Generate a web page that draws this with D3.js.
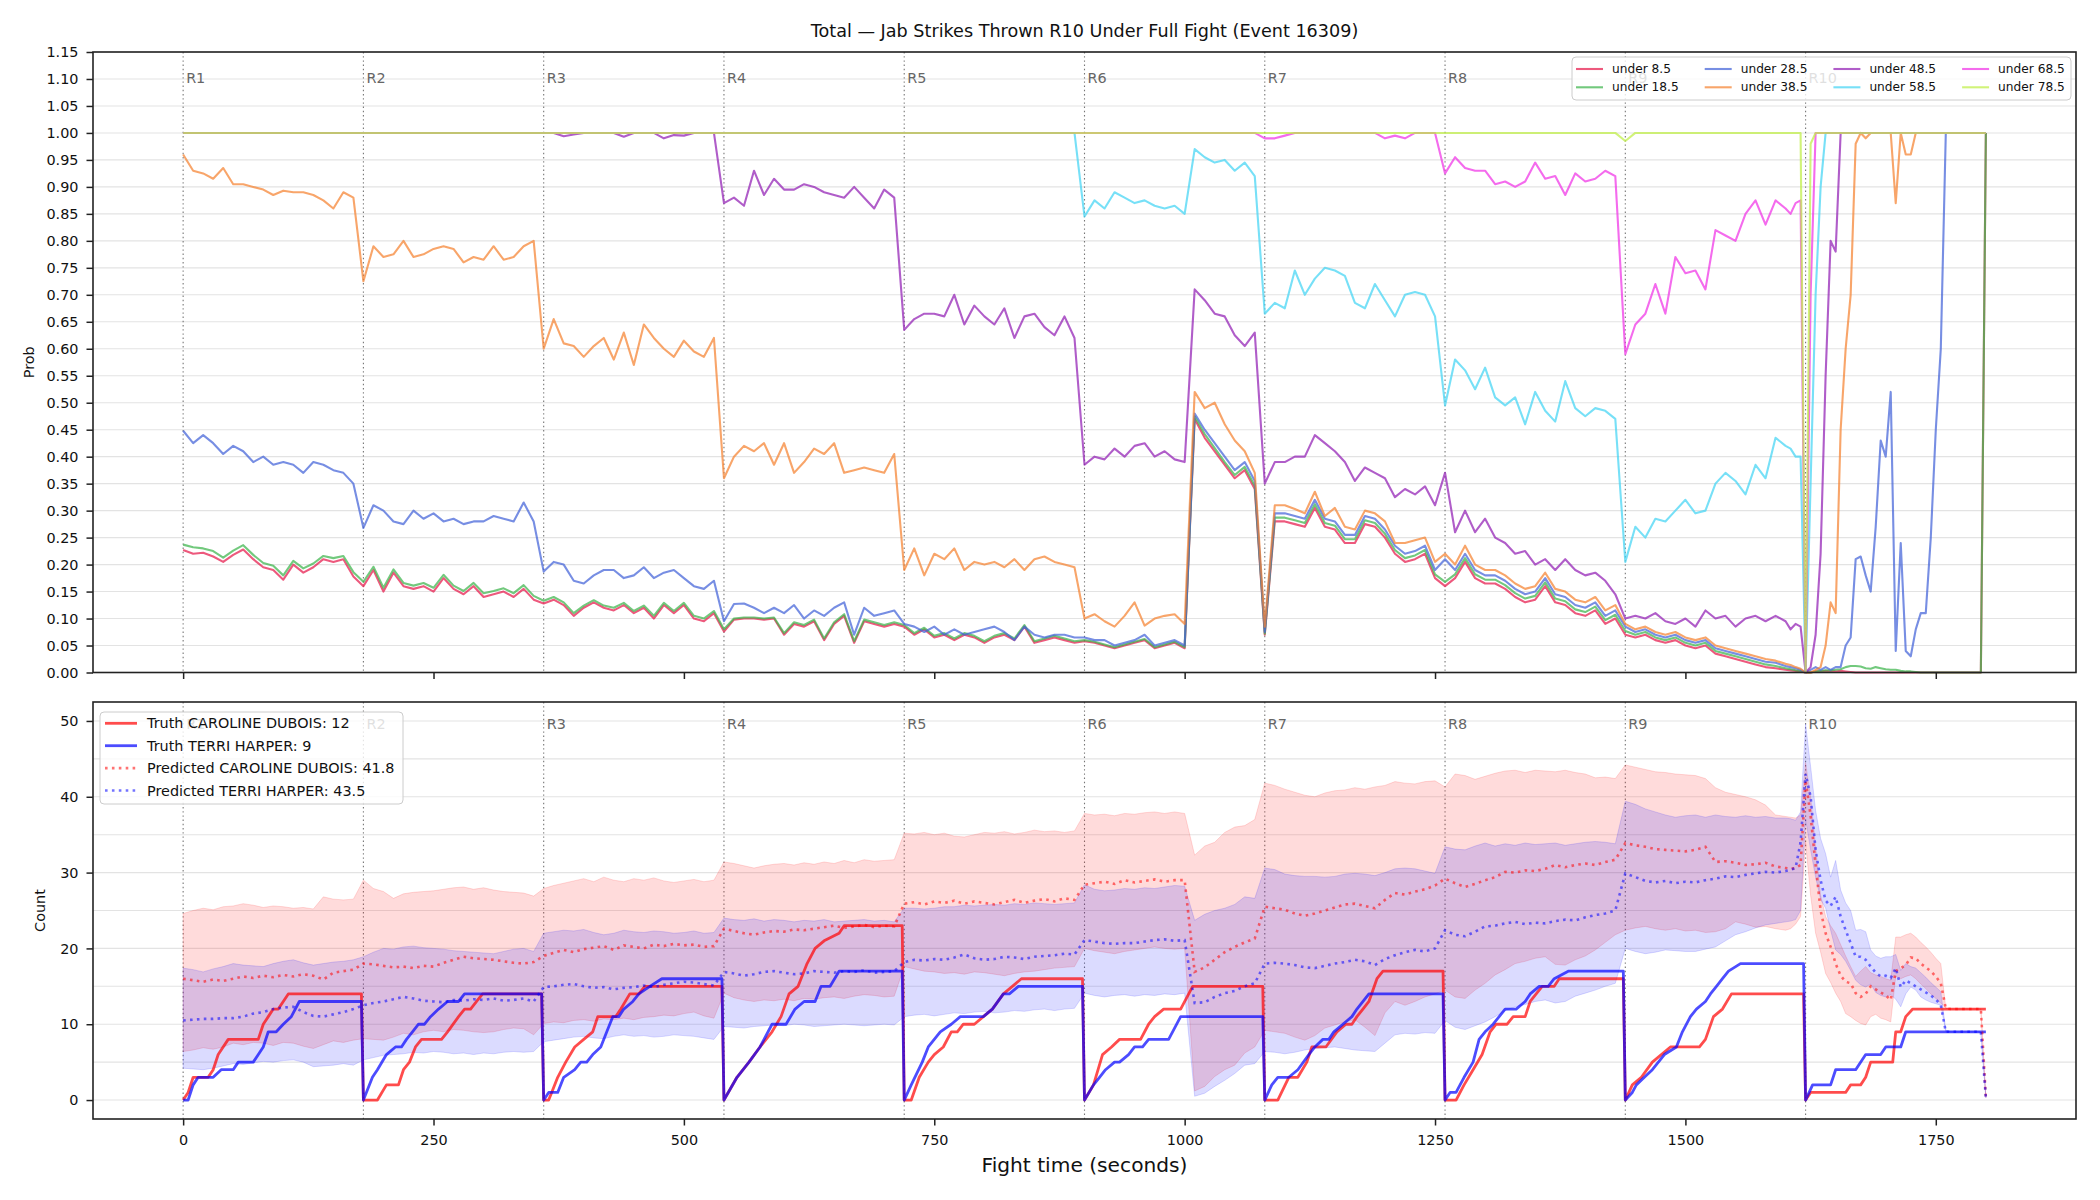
<!DOCTYPE html>
<html>
<head>
<meta charset="utf-8">
<script src="https://cdn.jsdelivr.net/npm/d3@7"></script>
<style>
  body { margin: 0; background: #fff; }
  text { font-family: "DejaVu Sans", sans-serif; }
</style>
</head>
<body>
<div id="chart"></div>
<script>
// Sample times: every 10 s up to 1600 s, then every 5 s through R10
const tGrid = d3.range(0, 1600, 10).concat(d3.range(1600, 1801, 5));

const rounds = [0, 180, 360, 540, 720, 900, 1080, 1260, 1440, 1620];
const roundLabels = ["R1", "R2", "R3", "R4", "R5", "R6", "R7", "R8", "R9", "R10"];
const xTicks = [0, 250, 500, 750, 1000, 1250, 1500, 1750];
const probTicks = [0, 0.05, 0.10, 0.15, 0.20, 0.25, 0.30, 0.35, 0.40, 0.45, 0.50, 0.55,
  0.60, 0.65, 0.70, 0.75, 0.80, 0.85, 0.90, 0.95, 1.00, 1.05, 1.10, 1.15];
const countTicks = [0, 10, 20, 30, 40, 50];
const countGrid = [0, 5, 10, 15, 20, 25, 30, 35, 40, 45, 50];

const thresholds = ["under 8.5", "under 18.5", "under 28.5", "under 38.5",
  "under 48.5", "under 58.5", "under 68.5", "under 78.5"];
const thresholdColors = ["#e6194b", "#3cb44b", "#4363d8", "#f58231",
  "#911eb4", "#42d4f4", "#f032e6", "#bfef45"];

// P(total < threshold), one row per round
const under8 = [
  0.227,0.22,0.222,0.215,0.205,0.218,0.228,0.21,0.195,0.19,0.172,0.2,0.185,0.195,0.21,0.205,0.21,0.178,
  0.16,0.19,0.15,0.185,0.16,0.155,0.16,0.15,0.175,0.155,0.145,0.16,0.14,0.145,0.15,0.14,0.155,0.135,
  0.128,0.135,0.125,0.105,0.12,0.13,0.12,0.115,0.125,0.11,0.12,0.1,0.125,0.11,0.125,0.1,0.095,0.11,
  0.076,0.098,0.1,0.1,0.098,0.1,0.07,0.09,0.085,0.095,0.06,0.09,0.105,0.055,0.095,0.09,0.085,0.09,
  0.085,0.07,0.08,0.065,0.07,0.06,0.07,0.065,0.055,0.065,0.07,0.06,0.085,0.055,0.06,0.065,0.06,0.055,
  0.058,0.055,0.05,0.045,0.05,0.055,0.06,0.045,0.05,0.055,0.045,0.47,0.435,0.41,0.385,0.36,0.375,0.34,
  0.07,0.28,0.28,0.275,0.27,0.305,0.27,0.265,0.24,0.24,0.275,0.27,0.25,0.22,0.205,0.21,0.22,0.175,
  0.16,0.175,0.205,0.175,0.165,0.165,0.155,0.14,0.13,0.135,0.16,0.13,0.125,0.11,0.105,0.115,0.09,0.1,
  0.07,0.065,0.07,0.06,0.055,0.06,0.05,0.045,0.05,0.035,0.03,0.025,0.02,0.015,0.01,0.008,0.005,0.004,0.003,0.002,
  0,0,0.002,0.002,0.003,0.002,0.002,0.003,0.002,0.001, 0,0,0,0,0,0,0,0,0,0, 0,0,0,0,0,0,0,0,0,0, 0,0,0,0,0,0, 1
];
const under18 = [
  0.237,0.232,0.23,0.225,0.213,0.226,0.236,0.218,0.203,0.198,0.18,0.207,0.193,0.202,0.216,0.212,0.216,0.186,
  0.168,0.196,0.157,0.191,0.166,0.161,0.166,0.157,0.181,0.161,0.151,0.166,0.147,0.151,0.156,0.147,0.162,0.142,
  0.133,0.14,0.13,0.11,0.124,0.134,0.124,0.12,0.129,0.114,0.124,0.105,0.129,0.114,0.129,0.105,0.1,0.114,
  0.08,0.1,0.102,0.102,0.1,0.102,0.073,0.093,0.088,0.098,0.063,0.093,0.108,0.058,0.098,0.093,0.088,0.093,
  0.088,0.073,0.083,0.068,0.073,0.063,0.073,0.068,0.058,0.068,0.073,0.063,0.088,0.058,0.063,0.068,0.063,0.058,
  0.06,0.057,0.052,0.047,0.052,0.057,0.062,0.047,0.052,0.057,0.047,0.475,0.442,0.416,0.39,0.366,0.381,0.346,
  0.072,0.287,0.287,0.282,0.277,0.312,0.277,0.272,0.247,0.247,0.282,0.277,0.257,0.227,0.212,0.217,0.227,0.182,
  0.168,0.182,0.212,0.182,0.172,0.172,0.162,0.147,0.137,0.142,0.167,0.137,0.132,0.117,0.112,0.122,0.097,0.107,
  0.077,0.07,0.075,0.065,0.06,0.065,0.055,0.05,0.055,0.04,0.035,0.03,0.025,0.02,0.015,0.012,0.008,0.006,0.004,0.003,
  0,0,0.002,0.003,0.004,0.004,0.005,0.006,0.01,0.012, 0.012,0.011,0.008,0.007,0.01,0.008,0.006,0.005,0.005,0.003,
  0.002,0.002,0.001,0,0,0,0,0,0,0, 0,0,0,0,0,0, 1
];
const under28 = [
  0.448,0.425,0.44,0.425,0.405,0.42,0.41,0.39,0.40,0.385,0.39,0.385,0.37,0.39,0.385,0.375,0.37,0.35,
  0.268,0.31,0.30,0.28,0.275,0.30,0.285,0.295,0.28,0.285,0.275,0.28,0.28,0.29,0.285,0.28,0.315,0.28,
  0.187,0.205,0.20,0.17,0.165,0.18,0.19,0.19,0.175,0.18,0.195,0.175,0.185,0.19,0.175,0.16,0.155,0.17,
  0.095,0.127,0.128,0.12,0.11,0.12,0.11,0.125,0.10,0.115,0.105,0.12,0.13,0.07,0.12,0.105,0.11,0.115,
  0.09,0.085,0.075,0.085,0.07,0.08,0.07,0.075,0.08,0.085,0.075,0.06,0.085,0.07,0.065,0.07,0.07,0.065,
  0.065,0.06,0.06,0.05,0.055,0.06,0.07,0.05,0.055,0.06,0.05,0.48,0.45,0.425,0.40,0.375,0.39,0.355,
  0.075,0.295,0.295,0.29,0.285,0.32,0.285,0.28,0.255,0.255,0.29,0.285,0.265,0.235,0.22,0.225,0.235,0.19,
  0.21,0.19,0.22,0.19,0.18,0.18,0.17,0.155,0.145,0.15,0.175,0.145,0.14,0.125,0.12,0.13,0.105,0.115,
  0.085,0.075,0.08,0.07,0.065,0.07,0.06,0.055,0.06,0.045,0.04,0.035,0.03,0.025,0.02,0.018,0.012,0.01,0.008,0.005,
  0,0.005,0.01,0.005,0.01,0.005,0.01,0.01,0.05,0.065, 0.21,0.215,0.18,0.15,0.27,0.43,0.40,0.52,0.04,0.24,
  0.04,0.03,0.08,0.11,0.11,0.25,0.45,0.60,1,1, 1,1,1,1,1,1, 1
];
const under38 = [
  0.96,0.93,0.925,0.915,0.935,0.905,0.905,0.90,0.895,0.885,0.893,0.89,0.89,0.885,0.875,0.86,0.89,0.88,
  0.725,0.79,0.77,0.775,0.80,0.77,0.775,0.785,0.79,0.785,0.76,0.77,0.765,0.79,0.765,0.77,0.79,0.80,
  0.60,0.655,0.61,0.605,0.585,0.605,0.62,0.58,0.63,0.57,0.645,0.62,0.60,0.585,0.615,0.595,0.585,0.62,
  0.36,0.40,0.42,0.41,0.425,0.385,0.425,0.37,0.39,0.415,0.405,0.425,0.37,0.375,0.38,0.375,0.37,0.405,
  0.19,0.23,0.18,0.22,0.21,0.23,0.19,0.205,0.20,0.205,0.195,0.21,0.19,0.21,0.215,0.205,0.20,0.195,
  0.10,0.108,0.095,0.085,0.105,0.13,0.087,0.10,0.105,0.108,0.09,0.52,0.49,0.50,0.46,0.43,0.41,0.37,
  0.085,0.31,0.31,0.303,0.295,0.335,0.29,0.305,0.27,0.265,0.30,0.295,0.28,0.24,0.24,0.245,0.25,0.205,
  0.22,0.20,0.235,0.20,0.19,0.19,0.18,0.165,0.155,0.16,0.185,0.155,0.15,0.135,0.13,0.14,0.115,0.125,
  0.09,0.08,0.085,0.075,0.07,0.075,0.065,0.06,0.065,0.05,0.045,0.04,0.035,0.03,0.025,0.022,0.016,0.014,0.01,0.007,
  0,0,0.005,0.01,0.05,0.13,0.11,0.45,0.60,0.70, 0.98,1,0.99,1,1,1,1,1,0.87,1,
  0.96,0.96,1,1,1,1,1,1,1,1, 1,1,1,1,1,1, 1
];
const under48 = [
  1,1,1,1,1,1,1,1,1, 1,1,1,1,1,1,1,1,1,
  1,1,1,1,1,1,1,1,1, 1,1,1,1,1,1,1,1,1,
  1,1,0.994,0.997,1,1,1,1,0.993,1,1,1,0.99,0.996,0.995,1,1,1,
  0.87,0.88,0.865,0.93,0.885,0.915,0.895,0.895,0.905,0.90,0.89,0.885,0.88,0.90,0.88,0.86,0.895,0.88,
  0.635,0.655,0.665,0.665,0.66,0.70,0.645,0.68,0.66,0.645,0.675,0.62,0.66,0.665,0.64,0.625,0.66,0.62,
  0.385,0.40,0.395,0.415,0.40,0.42,0.425,0.40,0.41,0.395,0.39,0.71,0.69,0.665,0.66,0.625,0.605,0.63,
  0.35,0.39,0.39,0.40,0.40,0.44,0.425,0.41,0.39,0.355,0.38,0.37,0.36,0.325,0.34,0.33,0.345,0.31,
  0.37,0.26,0.30,0.26,0.285,0.25,0.24,0.22,0.225,0.20,0.21,0.19,0.21,0.19,0.18,0.185,0.17,0.145,
  0.10,0.105,0.10,0.11,0.095,0.09,0.10,0.085,0.115,0.10,0.105,0.085,0.10,0.105,0.095,0.105,0.095,0.08,0.09,0.085,
  0,0.01,0.07,0.22,0.55,0.80,0.78,1,1,1, 1,1,1,1,1,1,1,1,1,1, 1,1,1,1,1,1,1,1,1,1, 1,1,1,1,1,1, 1
];
const under58 = [
  1,1,1,1,1,1,1,1,1, 1,1,1,1,1,1,1,1,1,
  1,1,1,1,1,1,1,1,1, 1,1,1,1,1,1,1,1,1,
  1,1,1,1,1,1,1,1,1, 1,1,1,1,1,1,1,1,1,
  1,1,1,1,1,1,1,1,1, 1,1,1,1,1,1,1,1,1,
  1,1,1,1,1,1,1,1,1, 1,1,1,1,1,1,1,1,1,
  0.845,0.875,0.86,0.89,0.88,0.87,0.875,0.865,0.86,0.865,0.85,0.97,0.955,0.945,0.95,0.93,0.945,0.92,
  0.665,0.685,0.675,0.745,0.70,0.73,0.75,0.745,0.735,0.685,0.675,0.72,0.69,0.66,0.70,0.705,0.70,0.66,
  0.495,0.58,0.56,0.525,0.565,0.51,0.495,0.51,0.46,0.52,0.485,0.465,0.54,0.49,0.475,0.49,0.485,0.47,
  0.205,0.27,0.25,0.285,0.28,0.30,0.32,0.295,0.30,0.35,0.37,0.355,0.33,0.385,0.36,0.435,0.42,0.415,0.40,0.40,
  0,0.35,0.70,0.90,1,1,1,1,1,1, 1,1,1,1,1,1,1,1,1,1, 1,1,1,1,1,1,1,1,1,1, 1,1,1,1,1,1, 1
];
const under68 = [
  1,1,1,1,1,1,1,1,1, 1,1,1,1,1,1,1,1,1,
  1,1,1,1,1,1,1,1,1, 1,1,1,1,1,1,1,1,1,
  1,1,1,1,1,1,1,1,1, 1,1,1,1,1,1,1,1,1,
  1,1,1,1,1,1,1,1,1, 1,1,1,1,1,1,1,1,1,
  1,1,1,1,1,1,1,1,1, 1,1,1,1,1,1,1,1,1,
  1,1,1,1,1,1,1,1,1, 1,1,1,1,1,1,1,1,1,
  0.99,0.99,0.995,1,1,1,1,1,1,1,1,1,0.99,0.995,0.99,1,1,1,
  0.925,0.955,0.935,0.93,0.93,0.905,0.91,0.90,0.91,0.945,0.915,0.92,0.885,0.925,0.91,0.915,0.93,0.92,
  0.59,0.645,0.665,0.72,0.665,0.77,0.74,0.745,0.71,0.82,0.81,0.80,0.85,0.875,0.83,0.875,0.86,0.85,0.87,0.875,
  0,0.7,1,1,1,1,1,1,1,1, 1,1,1,1,1,1,1,1,1,1, 1,1,1,1,1,1,1,1,1,1, 1,1,1,1,1,1, 1
];
const under78 = [
  1,1,1,1,1,1,1,1,1, 1,1,1,1,1,1,1,1,1,
  1,1,1,1,1,1,1,1,1, 1,1,1,1,1,1,1,1,1,
  1,1,1,1,1,1,1,1,1, 1,1,1,1,1,1,1,1,1,
  1,1,1,1,1,1,1,1,1, 1,1,1,1,1,1,1,1,1,
  1,1,1,1,1,1,1,1,1, 1,1,1,1,1,1,1,1,1,
  1,1,1,1,1,1,1,1,1, 1,1,1,1,1,1,1,1,1,
  1,1,1,1,1,1,1,1,1, 1,1,1,1,1,1,1,1,1,
  1,1,1,1,1,1,1,1,1, 1,1,1,1,1,1,1,1,1,
  0.985,1,1,1,1,1,1,1,1,1, 1,1,1,1,1,1,1,1,1,1,
  0,0.98,1,1,1,1,1,1,1,1, 1,1,1,1,1,1,1,1,1,1, 1,1,1,1,1,1,1,1,1,1, 1,1,1,1,1,1, 1
];

// Cumulative jabs within each round: [time, count]
const truthDubois = [
  [0,0],[5,1],[10,3],[25,3],[30,4],[35,6],[45,8],[75,8],[80,10],[85,11],[90,12],[95,12],[100,13],[105,14],[178,14],
  [180,0],[194,0],[203,2],[215,2],[220,4],[226,5],[232,7],[238,8],[258,8],[264,9],[275,11],[281,12],[287,12],[293,13],[299,14],[358,14],
  [360,0],[365,0],[368,1],[374,3],[382,5],[391,7],[400,8],[409,9],[414,11],[432,11],[437,12],[446,14],[455,14],[461,15],[538,15],
  [540,0],[553,3],[565,5],[576,7],[588,9],[597,11],[605,14],[614,15],[623,18],[631,20],[640,21],[655,22],[660,23],[718,23],
  [720,0],[727,0],[735,3],[744,5],[750,6],[759,7],[767,9],[773,9],[779,10],[790,10],[799,11],[808,12],[819,14],[828,15],[837,16],[898,16],
  [900,0],[909,2],[918,6],[927,7],[935,8],[956,8],[964,10],[970,11],[979,12],[996,12],[1008,15],[1078,15],
  [1080,0],[1093,0],[1104,3],[1113,3],[1122,5],[1127,7],[1141,7],[1152,9],[1161,10],[1167,10],[1172,11],[1178,12],[1184,13],[1192,16],[1198,17],[1258,17],
  [1260,0],[1271,0],[1279,2],[1288,4],[1297,6],[1305,9],[1311,10],[1322,10],[1328,11],[1340,11],[1345,13],[1351,14],[1357,15],[1369,15],[1374,16],[1438,16],
  [1440,0],[1447,2],[1456,3],[1467,5],[1485,7],[1514,7],[1520,8],[1528,11],[1537,12],[1546,14],[1618,14],
  [1620,0],[1625,1],[1660,1],[1665,2],[1675,2],[1680,3],[1685,5],[1707,5],[1710,9],[1715,9],[1720,11],[1727,12],[1800,12]
];
const truthHarper = [
  [0,0],[5,0],[10,2],[15,3],[30,3],[38,4],[50,4],[55,5],[70,5],[80,7],[85,9],[93,9],[100,10],[108,11],[116,13],[178,13],
  [180,0],[189,3],[194,4],[203,6],[212,7],[218,7],[223,8],[229,9],[235,10],[241,10],[247,11],[255,12],[264,13],[275,13],[281,14],[358,14],
  [360,0],[365,1],[374,1],[380,3],[391,4],[397,5],[403,5],[409,6],[417,7],[423,9],[429,11],[435,11],[440,12],[449,13],[455,14],[466,15],[478,16],[538,16],
  [540,0],[553,3],[565,5],[576,7],[588,10],[602,10],[611,12],[620,13],[631,13],[637,15],[646,15],[655,17],[718,17],
  [720,0],[727,2],[738,5],[744,7],[756,9],[767,10],[776,11],[799,11],[808,12],[819,14],[825,14],[834,15],[898,15],
  [900,0],[909,2],[915,3],[921,4],[930,5],[935,5],[944,6],[950,7],[958,7],[964,8],[984,8],[996,11],[1078,11],
  [1080,0],[1087,2],[1093,3],[1104,3],[1113,4],[1124,6],[1130,7],[1138,8],[1144,8],[1149,9],[1158,10],[1167,11],[1172,12],[1184,14],[1258,14],
  [1260,0],[1265,1],[1271,1],[1279,3],[1288,5],[1294,8],[1300,9],[1308,10],[1320,12],[1331,12],[1340,13],[1345,14],[1354,15],[1363,15],[1369,16],[1383,17],[1438,17],
  [1440,0],[1447,1],[1451,2],[1459,3],[1467,4],[1479,6],[1491,7],[1497,9],[1505,11],[1511,12],[1520,13],[1525,14],[1531,15],[1537,16],[1543,17],[1555,18],[1618,18],
  [1620,0],[1627,2],[1645,2],[1650,4],[1670,4],[1680,6],[1695,6],[1700,7],[1715,7],[1720,9],[1800,9]
];

// Predicted round totals and their bands, on tGrid
const predDubois = [
  16.0,15.8,15.6,15.9,15.7,16.0,16.3,16.1,16.4,16.2,16.5,16.3,16.6,16.4,15.9,16.8,17.0,17.2,
  18.0,17.9,17.7,17.5,17.6,17.4,17.7,17.6,18.1,18.5,18.9,18.7,18.6,18.5,18.3,18.1,18.0,18.2,
  19.0,19.4,19.8,19.5,19.9,20.1,20.3,19.8,20.4,20.2,20.0,20.5,20.3,20.6,20.4,20.5,20.2,20.3,
  22.6,22.3,22.0,21.8,22.1,22.3,22.2,22.5,22.4,22.6,22.8,23.0,22.7,22.9,23.1,22.8,23.0,22.9,
  25.9,26.1,25.8,26.2,26.0,26.3,25.9,26.2,26.0,25.8,26.1,26.4,26.0,26.3,26.5,26.2,26.6,26.4,
  28.4,28.6,28.8,28.5,29.0,28.7,28.9,29.1,28.8,29.0,29.0,16.9,17.5,18.5,19.5,20.2,20.8,21.3,
  25.5,25.3,25.1,24.6,24.3,24.6,25.0,25.4,25.8,25.9,25.6,25.3,26.4,27.3,27.1,27.5,27.8,28.3,
  29.2,28.6,28.1,28.5,29.0,29.4,30.1,30.0,30.3,30.2,30.5,31.0,30.7,31.0,31.2,31.0,31.4,31.7,
  33.9,33.6,33.4,33.1,33.0,32.9,32.8,33.0,33.4,31.4,31.5,31.3,31.0,31.1,31.3,30.8,30.6,30.5,30.6,31.0,
  42.2,37.5,31.0,25.0,22.0,20.2,18.0,16.4,15.6,15.4, 14.1,13.6,14.0,15.0,14.6,14.2,13.8,13.2,17.0,17.4,
  17.8,18.8,18.7,18.0,17.5,17.0,16.3,15.4,12.1,12, 12,12,12,12,12,12, 0.3
];
const predHarper = [
  10.5,10.6,10.7,10.7,10.8,10.8,11.0,11.4,11.6,12.0,12.2,12.3,11.6,11.1,11.0,11.3,11.6,12.0,
  12.5,12.8,13.0,13.3,13.6,13.4,13.1,13.0,12.9,13.2,13.1,13.3,13.2,13.4,13.1,13.2,13.4,13.0,
  14.9,15.0,15.2,15.3,15.0,14.8,14.9,14.6,14.8,14.9,15.1,14.9,15.2,15.4,15.6,15.5,15.3,15.1,
  16.9,16.7,16.4,16.6,16.9,17.0,16.8,16.6,16.7,17.0,16.9,16.8,17.0,16.9,17.1,16.8,16.9,17.0,
  18.2,18.5,18.4,18.6,18.5,18.8,19.2,18.7,18.5,18.6,18.9,18.8,18.6,18.9,19.0,19.1,19.3,19.2,
  21.1,20.9,20.7,20.6,20.7,20.7,20.9,21.1,21.2,21.0,21.1,12.8,12.9,13.6,14.1,14.4,15.0,15.4,
  18.0,18.1,18.0,17.8,17.5,17.4,17.7,18.0,18.2,18.5,18.3,17.8,18.6,19.1,19.5,19.8,19.6,20.0,
  22.4,21.8,21.6,22.2,22.9,23.0,23.3,23.5,23.2,23.4,23.3,23.6,23.8,23.7,24.1,24.4,24.6,25.0,
  29.9,29.4,28.9,28.7,28.9,28.6,28.8,28.7,29.0,29.2,29.5,29.4,29.7,29.9,30.1,30.0,30.2,30.4,30.6,34.0,
  43.0,40.0,33.0,29.0,26.3,25.6,26.8,24.2,22.4,20.7, 18.9,18.9,18.5,17.6,16.8,16.3,16.4,16.1,17.4,14.9,
  15.8,15.4,15.0,14.6,14.2,13.8,13.3,12.5,9.0,9, 9,9,9,9,9,9, 0.3
];
const duboisHigh = [
  24.6,25.0,25.3,25.1,25.5,25.6,25.9,25.7,25.4,25.6,25.5,25.3,25.4,25.2,26.8,26.5,26.4,26.5,
  29.0,27.9,27.5,26.6,27.2,27.4,27.5,27.6,27.8,28.0,28.1,27.8,28.0,27.7,27.5,27.4,27.3,26.9,
  27.9,28.3,28.6,28.9,29.2,28.8,29.4,29.0,28.8,29.2,29.0,29.3,28.9,28.7,28.9,29.1,28.8,29.0,
  31.4,31.2,30.9,30.6,30.9,31.1,31.2,31.0,31.3,31.1,31.4,31.2,31.6,31.3,31.7,31.5,31.6,31.7,
  35.2,35.1,35.3,35.0,35.2,34.8,34.7,35.0,35.3,35.2,35.4,35.1,35.3,35.6,35.4,35.5,35.3,35.5,
  37.8,37.6,37.7,37.5,37.8,37.7,37.9,38.0,37.8,38.0,37.8,32.3,33.5,34.0,35.3,36.0,36.2,37.0,
  41.8,41.5,41.0,40.6,40.2,40.0,40.5,40.8,40.9,41.2,41.0,41.3,41.5,42.0,41.8,41.7,42.0,42.1,
  41.3,43.0,42.8,42.3,42.7,43.1,43.4,43.5,43.2,43.5,43.4,43.3,43.5,43.2,43.0,42.5,42.6,42.4,
  44.2,43.9,43.6,43.3,43.2,43.0,42.9,42.8,42.4,41.2,40.6,40.3,40.0,39.6,38.9,37.6,37.4,37.3,37.2,37.6,
  44.5,40.0,33.5,27.0,24.2,23.0,22.0,20.5,19.0,17.6, 16.3,17.0,17.6,16.8,16.5,16.3,16.0,15.8,21.5,21.5,
  21.8,22.0,21.5,20.8,20.2,19.5,18.7,18.0,12.1,12, 12,12,12,12,12,12, 0.3
];
const duboisLow = [
  6.4,6.6,6.9,6.7,7.0,7.5,7.3,7.6,7.5,7.2,7.6,7.5,7.1,6.8,7.3,7.8,7.6,7.9,
  8.1,8.0,7.9,8.3,8.8,8.6,9.0,9.2,9.0,9.3,9.2,9.0,8.9,9.0,9.3,9.5,9.4,8.6,
  10.1,10.3,10.2,10.5,10.6,10.4,10.7,10.6,10.8,10.6,10.9,11.0,11.2,11.1,11.4,11.6,11.1,10.8,
  14.1,13.5,13.2,13.0,13.2,13.1,13.3,13.1,13.4,13.3,13.5,13.6,13.4,13.7,13.9,13.8,13.6,13.7,
  17.6,17.3,17.0,16.9,16.7,16.8,16.6,16.9,16.8,16.6,16.4,16.7,16.9,17.0,17.2,17.4,17.5,17.6,
  20.0,19.7,19.5,19.3,19.6,19.8,20.0,20.2,20.0,19.9,20.0,1.2,1.8,3.1,4.0,4.6,6.2,7.0,
  9.2,9.0,8.8,8.3,7.9,8.5,9.5,9.9,10.3,10.6,9.6,8.5,11.5,13.0,12.5,13.0,13.6,14.0,
  14.5,13.6,13.4,14.5,15.4,16.5,17.2,18.0,18.3,18.7,18.9,17.9,17.8,18.5,19.0,19.8,20.8,21.8,
  22.4,22.7,22.9,22.6,22.4,22.6,22.3,22.4,22.1,22.2,22.6,23.5,23.2,22.8,22.9,22.6,22.4,22.6,23.2,24.2,
  34.0,27.0,22.0,19.5,16.7,15.5,14.1,13.0,11.4,11.0, 10.5,10.1,9.9,11.0,11.3,10.8,10.6,10.3,16.3,16.0,
  16.3,16.5,16.0,15.3,14.7,14.0,13.4,12.8,12.1,12, 12,12,12,12,12,12, 0.3
];
const harperHigh = [
  17.4,17.2,16.9,17.3,17.6,18.0,17.8,17.7,17.6,18.0,18.3,18.5,18.1,17.8,18.0,18.2,18.3,18.5,
  18.9,19.5,20.0,19.9,20.2,20.3,20.1,20.0,19.9,19.7,19.6,19.5,19.4,19.3,19.6,19.9,20.0,19.6,
  22.0,22.2,22.4,22.3,22.5,22.1,21.8,22.0,22.4,22.2,22.1,22.3,22.2,22.0,22.1,22.3,22.0,22.1,
  24.0,23.8,23.7,23.9,23.6,23.8,23.7,23.5,23.7,23.6,23.8,23.5,23.6,23.7,23.8,23.6,23.7,23.5,
  25.3,25.3,25.2,25.3,25.5,25.5,25.7,25.6,25.7,25.8,25.7,25.9,25.8,26.0,25.9,25.8,25.9,26.0,
  28.4,27.8,27.6,27.7,27.9,27.8,28.0,27.9,28.1,28.3,28.2,23.7,24.5,25.0,25.3,25.8,26.8,26.6,
  30.6,30.4,29.8,29.6,29.5,29.5,29.4,29.5,29.8,29.9,29.8,29.6,30.0,30.5,30.6,30.5,30.2,29.9,
  33.4,33.1,33.0,33.5,33.9,33.5,33.8,33.6,33.9,33.7,33.8,33.9,33.6,33.8,34.0,34.1,34.0,33.8,
  39.4,39.0,38.4,38.0,37.6,37.3,37.5,37.6,37.3,37.6,37.4,37.3,37.5,37.3,37.4,37.2,37.2,37.1,36.9,38.0,
  49.6,44.0,38.2,34.5,32.5,29.4,31.6,27.7,26.0,25.0, 22.4,22.5,22.2,19.8,19.0,18.7,18.9,18.9,19.2,17.1,
  18.0,17.6,17.4,16.8,16.2,15.5,14.9,14.3,9.2,9, 9,9,9,9,9,9, 0.3
];
const harperLow = [
  4.2,4.1,4.0,4.2,4.5,4.8,4.7,4.9,5.1,5.0,5.2,5.3,5.0,4.4,4.5,4.6,4.8,4.6,
  5.3,5.6,5.9,6.0,6.1,6.3,6.2,6.4,6.3,6.1,6.2,6.0,6.2,6.1,6.3,6.4,6.3,6.4,
  7.7,7.9,8.1,8.3,8.4,8.2,8.1,8.4,8.6,8.4,8.5,8.3,8.4,8.6,8.5,8.4,8.2,8.0,
  9.7,9.6,9.5,9.7,9.8,9.9,9.8,10.0,9.9,9.7,9.8,9.9,10.0,9.9,9.8,9.9,10.0,9.9,
  11.0,11.2,11.3,11.1,11.3,11.5,11.4,11.6,11.7,11.5,11.6,11.8,11.7,11.9,12.0,11.8,12.0,12.1,
  14.1,13.8,13.6,13.8,13.9,13.7,13.9,13.8,14.0,13.9,14.1,0.5,0.9,1.8,2.6,3.5,4.6,4.8,
  6.4,6.3,6.1,6.3,6.6,6.8,6.9,7.0,6.8,6.6,6.5,6.4,7.5,8.6,8.8,8.7,8.9,8.8,
  10.5,9.6,9.3,9.8,10.3,11.0,11.8,12.3,12.6,13.0,13.2,12.8,13.0,13.7,14.1,14.5,15.0,15.4,
  20.0,19.6,19.3,19.5,19.8,19.7,19.6,19.6,19.9,20.2,21.0,21.8,22.2,22.7,23.1,23.3,23.5,23.6,23.8,25.0,
  37.0,33.0,29.4,26.5,25.3,22.4,19.8,19.2,18.3,17.1, 15.8,15.2,14.9,15.3,14.2,13.8,13.6,13.9,13.3,12.3,
  14.0,14.9,14.5,13.6,13.2,12.9,12.7,12.5,9.0,9, 9,9,9,9,9,9, 0.3
];

const probSeries = [under8, under18, under28, under38, under48, under58, under68, under78]
  .map((values, i) => ({ name: thresholds[i], color: thresholdColors[i], values }));

// Layout
const width = 2100, height = 1200;
const left = 93, right = 2076;
const topPanel = { y0: 52, y1: 672.5 };
const botPanel = { y0: 702, y1: 1119 };
const lineAlpha = 0.72;

const svg = d3.select("#chart").append("svg")
  .attr("viewBox", [0, 0, width, height])
  .attr("width", width)
  .attr("height", height);

svg.append("rect").attr("width", width).attr("height", height).attr("fill", "#fff");

const x = d3.scaleLinear().domain([-90, 1890]).range([left, right]);
const yTop = d3.scaleLinear().domain([0, 1.15]).range([topPanel.y1, topPanel.y0]);
const yBot = d3.scaleLinear().domain([-2.5, 52.5]).range([botPanel.y1, botPanel.y0]);

// Gridlines
svg.append("g").selectAll("line").data(probTicks).join("line")
  .attr("x1", left).attr("x2", right)
  .attr("y1", d => yTop(d)).attr("y2", d => yTop(d))
  .attr("stroke", "#e3e3e3").attr("stroke-width", 1.1);
svg.append("g").selectAll("line").data(countGrid).join("line")
  .attr("x1", left).attr("x2", right)
  .attr("y1", d => yBot(d)).attr("y2", d => yBot(d))
  .attr("stroke", "#e3e3e3").attr("stroke-width", 1.1);

// Round markers in both panels
function roundMarkers(y, labelValue) {
  const g = svg.append("g");
  g.selectAll("line").data(rounds).join("line")
    .attr("x1", d => x(d)).attr("x2", d => x(d))
    .attr("y1", y.range()[1]).attr("y2", y.range()[0])
    .attr("stroke", "#555").attr("stroke-width", 1.1)
    .attr("stroke-dasharray", "1.4,2.8").attr("opacity", 0.8);
  g.selectAll("text").data(rounds).join("text")
    .attr("x", d => x(d) + 3)
    .attr("y", y(labelValue))
    .attr("dominant-baseline", "central")
    .attr("font-size", 14.4)
    .attr("fill", "#666")
    .text((d, i) => roundLabels[i]);
}
roundMarkers(yTop, 1.102);
roundMarkers(yBot, 49.6);

// Top panel: probability lines
const probLine = d3.line().x((d, i) => x(tGrid[i])).y(d => yTop(d));
svg.append("g").selectAll("path").data(probSeries).join("path")
  .attr("d", d => probLine(d.values))
  .attr("fill", "none")
  .attr("stroke", d => d.color)
  .attr("stroke-opacity", lineAlpha)
  .attr("stroke-width", 2.1)
  .attr("stroke-linejoin", "round");

// Bottom panel: bands, truth and predictions
const band = (lo, hi) => d3.area()
  .x((d, i) => x(tGrid[i]))
  .y0((d, i) => yBot(lo[i]))
  .y1((d, i) => yBot(hi[i]))(tGrid);

[[duboisLow, duboisHigh, "#ff0000"], [harperLow, harperHigh, "#0000ff"]].forEach(([lo, hi, c]) => {
  svg.append("path")
    .attr("d", band(lo, hi))
    .attr("fill", c).attr("fill-opacity", 0.14)
    .attr("stroke", c).attr("stroke-opacity", 0.14).attr("stroke-width", 1);
});

const truthLine = d3.line().x(d => x(d[0])).y(d => yBot(d[1]));
[[truthDubois, "#ff0000"], [truthHarper, "#0000ff"]].forEach(([data, c]) => {
  svg.append("path")
    .attr("d", truthLine(data))
    .attr("fill", "none").attr("stroke", c)
    .attr("stroke-opacity", 0.7).attr("stroke-width", 2.8)
    .attr("stroke-linejoin", "round");
});

const predLine = d3.line().x((d, i) => x(tGrid[i])).y(d => yBot(d));
[[predDubois, "#ff0000"], [predHarper, "#0000ff"]].forEach(([data, c]) => {
  svg.append("path")
    .attr("d", predLine(data))
    .attr("fill", "none").attr("stroke", c)
    .attr("stroke-opacity", 0.55).attr("stroke-width", 2.6)
    .attr("stroke-dasharray", "2.6,4.3");
});

// Axes
function styleAxis(g) {
  g.select(".domain").remove();
  g.selectAll(".tick line").attr("stroke", "#222").attr("stroke-width", 1.5);
  g.selectAll(".tick text").attr("fill", "#111").attr("font-size", 14.4)
    .attr("font-family", '"DejaVu Sans", sans-serif');
}
svg.append("g").attr("transform", `translate(${left},0)`)
  .call(d3.axisLeft(yTop).tickValues(probTicks).tickFormat(d3.format(".2f")).tickSize(6.5).tickPadding(8))
  .call(styleAxis);
svg.append("g").attr("transform", `translate(${left},0)`)
  .call(d3.axisLeft(yBot).tickValues(countTicks).tickFormat(d3.format("d")).tickSize(6.5).tickPadding(8))
  .call(styleAxis);
svg.append("g").attr("transform", `translate(0,${topPanel.y1})`)
  .call(d3.axisBottom(x).tickValues(xTicks).tickFormat("").tickSize(6.5))
  .call(styleAxis);
svg.append("g").attr("transform", `translate(0,${botPanel.y1})`)
  .call(d3.axisBottom(x).tickValues(xTicks).tickFormat(d3.format("d")).tickSize(6.5).tickPadding(9.5))
  .call(styleAxis);

// Frames
[topPanel, botPanel].forEach(p => {
  svg.append("rect")
    .attr("x", left).attr("y", p.y0)
    .attr("width", right - left).attr("height", p.y1 - p.y0)
    .attr("fill", "none").attr("stroke", "#222").attr("stroke-width", 1.6);
});

// Titles and axis labels
svg.append("text").attr("x", (left + right) / 2).attr("y", 31)
  .attr("text-anchor", "middle").attr("dominant-baseline", "central")
  .attr("font-size", 17.6).attr("fill", "#111")
  .text("Total — Jab Strikes Thrown R10 Under Full Fight (Event 16309)");
svg.append("text").attr("x", (left + right) / 2).attr("y", 1165)
  .attr("text-anchor", "middle").attr("dominant-baseline", "central")
  .attr("font-size", 20.2).attr("fill", "#111")
  .text("Fight time (seconds)");
svg.append("text").attr("transform", `translate(29,${(topPanel.y0 + topPanel.y1) / 2}) rotate(-90)`)
  .attr("text-anchor", "middle").attr("dominant-baseline", "central")
  .attr("font-size", 14.4).attr("fill", "#111").text("Prob");
svg.append("text").attr("transform", `translate(40,${(botPanel.y0 + botPanel.y1) / 2}) rotate(-90)`)
  .attr("text-anchor", "middle").attr("dominant-baseline", "central")
  .attr("font-size", 14.4).attr("fill", "#111").text("Count");

// Top legend (4 columns, 2 rows)
const legTop = svg.append("g");
legTop.append("rect").attr("x", 1572).attr("y", 57).attr("width", 499).attr("height", 43).attr("rx", 4)
  .attr("fill", "#fff").attr("fill-opacity", 0.8).attr("stroke", "#ccc").attr("stroke-width", 1);
probSeries.forEach((s, i) => {
  const cx = 1576 + Math.floor(i / 2) * 128.7;
  const cy = 69 + (i % 2) * 18.3;
  legTop.append("line").attr("x1", cx).attr("x2", cx + 27).attr("y1", cy).attr("y2", cy)
    .attr("stroke", s.color).attr("stroke-opacity", lineAlpha).attr("stroke-width", 2.1);
  legTop.append("text").attr("x", cx + 36).attr("y", cy).attr("dominant-baseline", "central")
    .attr("font-size", 12.2).attr("fill", "#111").text(s.name);
});

// Bottom legend
const legendItems = [
  { label: "Truth CAROLINE DUBOIS: 12", color: "#ff0000", dotted: false },
  { label: "Truth TERRI HARPER: 9", color: "#0000ff", dotted: false },
  { label: "Predicted CAROLINE DUBOIS: 41.8", color: "#ff0000", dotted: true },
  { label: "Predicted TERRI HARPER: 43.5", color: "#0000ff", dotted: true }
];
const legBot = svg.append("g");
legBot.append("rect").attr("x", 100).attr("y", 712).attr("width", 303).attr("height", 92).attr("rx", 4)
  .attr("fill", "#fff").attr("fill-opacity", 0.8).attr("stroke", "#ccc").attr("stroke-width", 1);
legendItems.forEach((d, i) => {
  const cy = 723.3 + i * 22.4;
  legBot.append("line").attr("x1", 105).attr("x2", 137).attr("y1", cy).attr("y2", cy)
    .attr("stroke", d.color)
    .attr("stroke-opacity", d.dotted ? 0.55 : 0.7)
    .attr("stroke-width", d.dotted ? 2.6 : 2.8)
    .attr("stroke-dasharray", d.dotted ? "2.6,4.3" : null);
  legBot.append("text").attr("x", 147).attr("y", cy).attr("dominant-baseline", "central")
    .attr("font-size", 14.4).attr("fill", "#111").text(d.label);
});
</script>
</body>
</html>
